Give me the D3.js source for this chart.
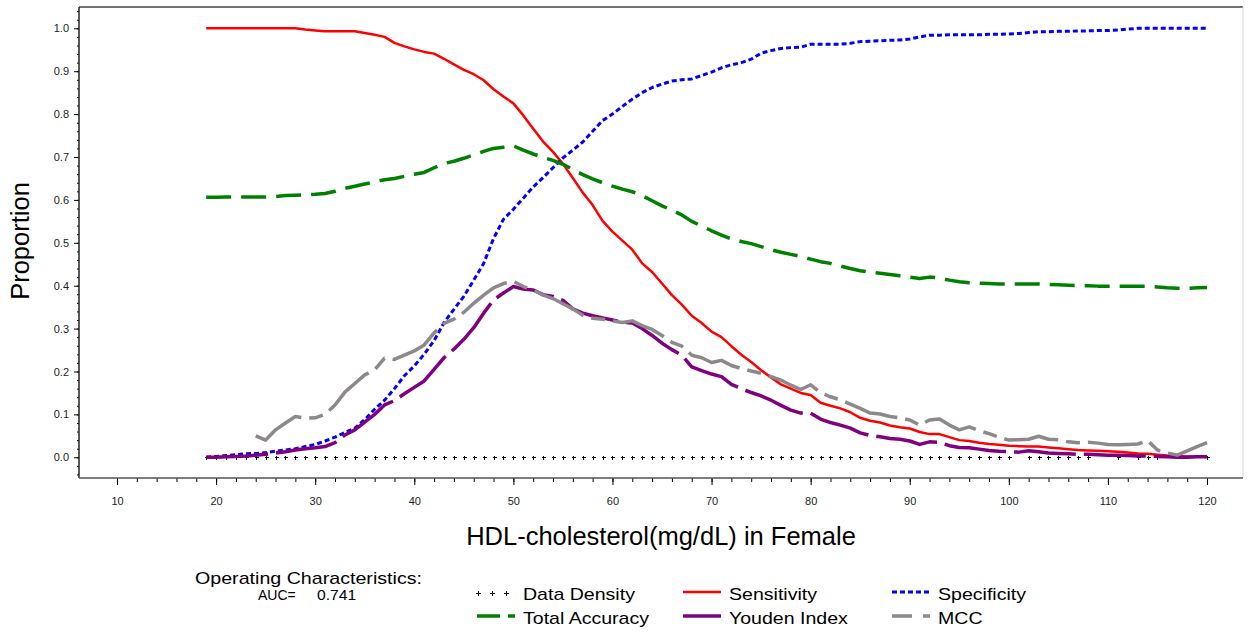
<!DOCTYPE html>
<html>
<head>
<meta charset="utf-8">
<script src="https://cdn.jsdelivr.net/npm/d3@7"></script>
<style>
  body { margin: 0; background: #fff; }
  svg { font-family: "Liberation Sans", Arial, sans-serif; }
</style>
</head>
<body>
<div id="chart"></div>
<script>
// HDL cut points (mg/dL)
const xs = d3.range(19, 121)

const sensitivity = [
  1.000, 1.000, 1.000, 1.000, 1.000, 1.000, 1.000, 1.000, 1.000, 1.000,
  0.997, 0.995, 0.993, 0.993, 0.993, 0.993, 0.989, 0.985, 0.980, 0.966,
  0.958, 0.951, 0.945, 0.941, 0.929, 0.916, 0.903, 0.893, 0.879, 0.858,
  0.841, 0.825, 0.797, 0.766, 0.736, 0.712, 0.684, 0.651, 0.617, 0.588,
  0.551, 0.526, 0.505, 0.484, 0.452, 0.432, 0.405, 0.378, 0.356, 0.330,
  0.313, 0.293, 0.280, 0.259, 0.239, 0.222, 0.203, 0.186, 0.170, 0.160,
  0.150, 0.145, 0.127, 0.120, 0.114, 0.105, 0.092, 0.085, 0.081, 0.074,
  0.070, 0.067, 0.059, 0.054, 0.054, 0.047, 0.040, 0.038, 0.034, 0.031,
  0.029, 0.027, 0.026, 0.025, 0.025, 0.023, 0.021, 0.019, 0.017, 0.016,
  0.015, 0.014, 0.013, 0.011, 0.009, 0.008, 0.006, 0.004, 0.003, 0.002,
  0.002, 0.002
]
const specificity = [
  0.000, 0.002, 0.004, 0.006, 0.008, 0.009, 0.011, 0.014, 0.017, 0.020,
  0.025, 0.030, 0.038, 0.047, 0.058, 0.068, 0.088, 0.112, 0.133, 0.160,
  0.190, 0.213, 0.240, 0.272, 0.314, 0.345, 0.375, 0.413, 0.452, 0.510,
  0.555, 0.578, 0.604, 0.630, 0.652, 0.675, 0.698, 0.716, 0.735, 0.760,
  0.785, 0.800, 0.818, 0.835, 0.850, 0.862, 0.870, 0.877, 0.880, 0.882,
  0.890, 0.898, 0.908, 0.915, 0.920, 0.928, 0.942, 0.948, 0.953, 0.955,
  0.956, 0.963, 0.963, 0.963, 0.963, 0.965, 0.969, 0.970, 0.971, 0.972,
  0.973, 0.975, 0.980, 0.984, 0.984, 0.985, 0.985, 0.985, 0.985, 0.986,
  0.986, 0.987, 0.988, 0.990, 0.992, 0.992, 0.993, 0.993, 0.994, 0.994,
  0.995, 0.995, 0.996, 0.998, 1.000, 1.000, 1.000, 1.000, 1.000, 1.000,
  1.000, 1.000
]
const accuracy = [
  0.606, 0.606, 0.607, 0.607, 0.607, 0.607, 0.607, 0.608, 0.610, 0.611,
  0.612, 0.613, 0.615, 0.620, 0.627, 0.632, 0.637, 0.642, 0.647, 0.650,
  0.655, 0.660, 0.664, 0.675, 0.685, 0.690, 0.697, 0.705, 0.713, 0.720,
  0.723, 0.726, 0.716, 0.707, 0.699, 0.692, 0.683, 0.671, 0.659, 0.649,
  0.640, 0.632, 0.625, 0.619, 0.610, 0.598, 0.586, 0.576, 0.565, 0.550,
  0.539, 0.528, 0.518, 0.509, 0.503, 0.498, 0.491, 0.484, 0.478, 0.473,
  0.468, 0.462, 0.456, 0.452, 0.446, 0.440, 0.435, 0.432, 0.429, 0.426,
  0.423, 0.420, 0.417, 0.420, 0.418, 0.413, 0.409, 0.407, 0.406, 0.405,
  0.404, 0.404, 0.404, 0.404, 0.404, 0.403, 0.402, 0.401, 0.400, 0.400,
  0.399, 0.399, 0.399, 0.399, 0.399, 0.399, 0.397, 0.395, 0.394, 0.394,
  0.395, 0.396
]
const youden = [
  0.000, 0.000, 0.001, 0.002, 0.003, 0.005, 0.007, 0.010, 0.013, 0.017,
  0.020, 0.022, 0.025, 0.034, 0.052, 0.064, 0.082, 0.100, 0.122, 0.132,
  0.148, 0.163, 0.178, 0.205, 0.232, 0.252, 0.275, 0.302, 0.336, 0.367,
  0.383, 0.398, 0.392, 0.390, 0.379, 0.375, 0.366, 0.346, 0.336, 0.330,
  0.325, 0.320, 0.315, 0.313, 0.300, 0.284, 0.266, 0.251, 0.238, 0.211,
  0.202, 0.194, 0.188, 0.170, 0.160, 0.151, 0.143, 0.133, 0.121, 0.110,
  0.103, 0.103, 0.089, 0.081, 0.075, 0.068, 0.057, 0.051, 0.048, 0.044,
  0.042, 0.038, 0.030, 0.036, 0.035, 0.027, 0.023, 0.022, 0.019, 0.016,
  0.014, 0.013, 0.012, 0.015, 0.013, 0.010, 0.009, 0.008, 0.007, 0.007,
  0.006, 0.005, 0.005, 0.004, 0.003, 0.003, 0.002, 0.001, 0.000, 0.000,
  0.001, 0.001
]
const mcc = [
  null, null, null, null, null, 0.050, 0.040, 0.064, 0.080, 0.095,
  0.091, 0.092, 0.100, 0.122, 0.152, 0.172, 0.192, 0.204, 0.231, 0.228,
  0.238, 0.248, 0.262, 0.290, 0.312, 0.322, 0.338, 0.359, 0.378, 0.395,
  0.405, 0.410, 0.398, 0.390, 0.378, 0.370, 0.358, 0.346, 0.331, 0.324,
  0.322, 0.318, 0.314, 0.318, 0.307, 0.298, 0.284, 0.268, 0.259, 0.238,
  0.232, 0.221, 0.226, 0.214, 0.207, 0.201, 0.196, 0.188, 0.180, 0.168,
  0.158, 0.169, 0.151, 0.141, 0.134, 0.124, 0.114, 0.103, 0.101, 0.095,
  0.092, 0.087, 0.075, 0.087, 0.089, 0.075, 0.064, 0.071, 0.062, 0.055,
  0.047, 0.040, 0.041, 0.042, 0.049, 0.042, 0.041, 0.036, 0.034, 0.035,
  0.033, 0.030, 0.029, 0.030, 0.031, 0.039, 0.017, 0.010, 0.005, 0.015,
  0.025, 0.034
]
// x values that carry a data-density marker
const densityX = d3.range(19, 101).concat([102, 103, 104, 105, 106, 107, 108, 111, 113, 114, 115, 120])

const xMajor = d3.range(10, 121, 10)
const xMinor = d3.range(10, 121, 2)
const yMajor = d3.range(0, 11).map(i => i / 10)
const yMinor = d3.range(-2, 53).map(i => i / 50)

const aucLabel = "AUC="
const aucValue = "0.741"

const series = [
  {name: "Sensitivity", values: sensitivity, color: "#ff0000", width: 2.5, dash: null, legendDash: null},
  {name: "Specificity", values: specificity, color: "#0000ff", width: 3, dash: "5,3", legendDash: "5,3"},
  {name: "Total Accuracy", values: accuracy, color: "#008000", width: 3.5, dash: "25,10", legendDash: "23,8,7"},
  {name: "Youden Index", values: youden, color: "#800080", width: 3.5, dash: "62,8", legendDash: null},
  {name: "MCC", values: mcc, color: "#8c888c", width: 3.5, dash: "55,8,14,8", legendDash: "20,11,7"}
]

const W = 1253, H = 632
const plot = {left: 79, top: 7, right: 1243, bottom: 478}

const svg = d3.select("#chart").append("svg")
  .attr("width", W)
  .attr("height", H)

const x = d3.scaleLinear().domain([6.165, 123.63]).range([plot.left, plot.right])
const y = d3.scaleLinear().domain([-0.0483, 1.0497]).range([plot.bottom, plot.top])

// stretch text horizontally (reference font runs wider than Arial)
const stretch = (sel, k) => {
  const len = sel.node().getComputedTextLength()
  sel.attr("textLength", len * k).attr("lengthAdjust", "spacingAndGlyphs")
}

// axes
const yMinorAxis = svg.append("g")
  .attr("transform", `translate(${plot.left},0)`)
  .call(d3.axisLeft(y).tickValues(yMinor).tickSize(2).tickFormat(""))
const yAxis = svg.append("g")
  .attr("transform", `translate(${plot.left},0)`)
  .call(d3.axisLeft(y).tickValues(yMajor).tickSize(5).tickPadding(5).tickFormat(d3.format(".1f")))
const xMinorAxis = svg.append("g")
  .attr("transform", `translate(0,${plot.bottom})`)
  .call(d3.axisBottom(x).tickValues(xMinor).tickSize(4).tickFormat(""))
const xAxis = svg.append("g")
  .attr("transform", `translate(0,${plot.bottom})`)
  .call(d3.axisBottom(x).tickValues(xMajor).tickSize(7).tickPadding(12))

;[yMinorAxis, yAxis, xMinorAxis, xAxis].forEach(g => {
  g.select(".domain").remove()
  g.selectAll("line").attr("stroke", "#000")
  g.selectAll("text").attr("fill", "#222").style("font-size", "11px")
})

// frame
svg.append("line").attr("x1", plot.left).attr("x2", plot.right).attr("y1", plot.top).attr("y2", plot.top)
  .attr("stroke", "#444").attr("stroke-width", 1.5)
svg.append("line").attr("x1", plot.right).attr("x2", plot.right).attr("y1", plot.top).attr("y2", plot.bottom)
  .attr("stroke", "#d8d8d8").attr("stroke-width", 1)
svg.append("line").attr("x1", plot.left).attr("x2", plot.left).attr("y1", plot.top).attr("y2", plot.bottom)
  .attr("stroke", "#222").attr("stroke-width", 1.5)
svg.append("line").attr("x1", plot.left).attr("x2", plot.right).attr("y1", plot.bottom).attr("y2", plot.bottom)
  .attr("stroke", "#555").attr("stroke-width", 1.5)

// data density markers
const plus = (g, cx, cy, r) => {
  cx = Math.round(cx) + 0.5
  cy = Math.round(cy) + 0.5
  g.append("path")
    .attr("d", `M${cx - r},${cy}H${cx + r}M${cx},${cy - r}V${cy + r}`)
    .attr("stroke", "#000")
    .attr("stroke-width", 1)
    .attr("shape-rendering", "crispEdges")
}
const dens = svg.append("g")
densityX.forEach(v => plus(dens, x(v), y(0), 2))

// curves
series.forEach(s => {
  const pts = xs.map((v, i) => ({x: v, v: s.values[i]}))
  const line = d3.line()
    .defined(d => d.v != null)
    .x(d => x(d.x))
    .y(d => y(d.v))
  svg.append("path")
    .datum(pts)
    .attr("fill", "none")
    .attr("stroke", s.color)
    .attr("stroke-width", s.width)
    .attr("stroke-dasharray", s.dash)
    .attr("stroke-linejoin", "round")
    .attr("d", line)
})

// axis labels
svg.append("text")
  .attr("transform", `translate(29,241) rotate(-90)`)
  .attr("text-anchor", "middle")
  .style("font-size", "25.5px")
  .text("Proportion")
svg.append("text")
  .attr("x", 661)
  .attr("y", 545)
  .attr("text-anchor", "middle")
  .style("font-size", "25.5px")
  .text("HDL-cholesterol(mg/dL) in Female")

// legend
stretch(svg.append("text").attr("x", 195).attr("y", 584).style("font-size", "17px").text("Operating Characteristics:"), 1.155)
svg.append("text").attr("x", 258).attr("y", 600).style("font-size", "14px").text(aucLabel)
stretch(svg.append("text").attr("x", 317).attr("y", 600).style("font-size", "14px").text(aucValue), 1.12)

const legendItems = [
  {name: "Data Density", col: 0, row: 0},
  {name: "Sensitivity", col: 1, row: 0},
  {name: "Specificity", col: 2, row: 0},
  {name: "Total Accuracy", col: 0, row: 1},
  {name: "Youden Index", col: 1, row: 1},
  {name: "MCC", col: 2, row: 1}
]
const colX = [477, 683, 892]
const rowY = [600, 624]
const leg = svg.append("g")
legendItems.forEach(item => {
  const lx = colX[item.col]
  const ly = rowY[item.row]
  const s = series.find(d => d.name === item.name)
  if (s) {
    leg.append("line")
      .attr("x1", lx).attr("x2", lx + 38)
      .attr("y1", ly - 8).attr("y2", ly - 8)
      .attr("stroke", s.color)
      .attr("stroke-width", s.width)
      .attr("stroke-dasharray", s.legendDash)
  } else {
    [0, 14, 28].forEach(dx => plus(leg, lx + 1 + dx, ly - 7, 2.5))
  }
  stretch(leg.append("text")
    .attr("x", lx + 46)
    .attr("y", ly)
    .style("font-size", "17px")
    .text(item.name), 1.15)
})
</script>
</body>
</html>
